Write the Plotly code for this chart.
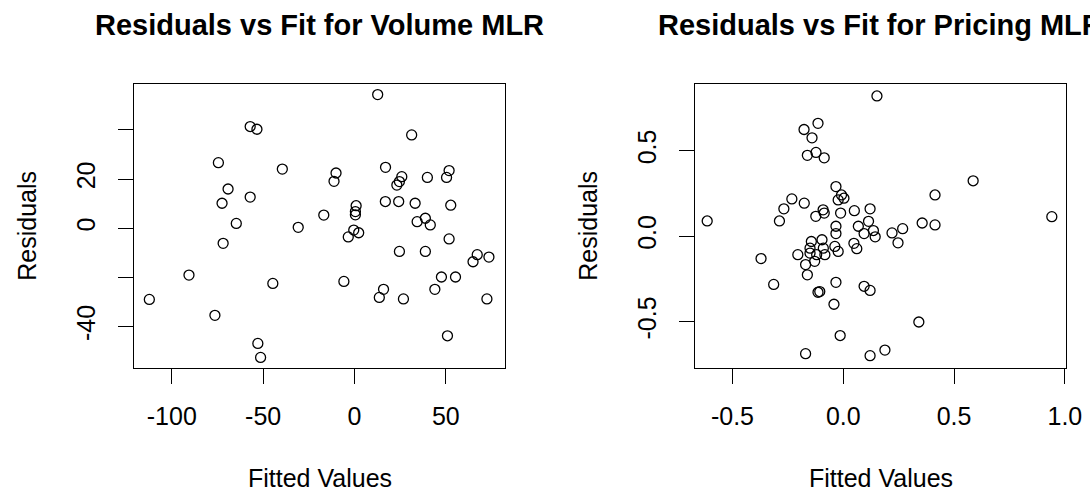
import plotly.graph_objects as go

# Volume MLR: fitted values vs residuals
vol_fitted = [-112.3, -90.6, -76.4, -74.5, -72.5, -69.2, -71.9, -64.7, -57.1, -53.4,
              -57.1, -52.9, -51.4, -44.7, -39.5, -30.8, -16.8, -10.1, -11.2, -5.8,
              -3.4, 0.9, 0.5, 0.5, -0.4, 2.3, 12.7, 17.0, 16.9, 24.2,
              25.9, 24.6, 23.2, 31.3, 24.6, 15.9, 13.6, 26.8, 33.2, 34.3,
              39.9, 38.8, 41.5, 38.8, 44.0, 47.6, 51.8, 50.4, 52.7, 51.8,
              55.3, 50.9, 64.9, 67.2, 73.6, 72.5]
vol_resid = [-28.9, -19.0, -35.4, 26.7, 10.2, 16.0, -6.1, 2.0, 41.4, 40.3,
             12.7, -46.8, -52.5, -22.4, 24.1, 0.4, 5.4, 22.5, 19.1, -21.6,
             -3.5, 9.2, 6.8, 5.5, -0.7, -1.8, 54.4, 24.8, 10.9, 10.9,
             21.0, 19.0, 17.6, 38.0, -9.4, -24.8, -28.1, -28.7, 10.2, 2.7,
             20.7, 4.1, 1.4, -9.4, -24.8, -19.8, 23.5, 20.7, 9.4, -4.3,
             -19.8, -43.7, -13.6, -10.7, -11.7, -28.7]

# Pricing MLR: fitted values vs residuals
price_fitted = [-0.614, -0.371, -0.314, -0.288, -0.268, -0.232, -0.177, -0.114, -0.141, -0.162,
                -0.123, -0.086, -0.176, -0.124, -0.091, -0.086, -0.033, -0.008, 0.003, -0.023,
                -0.012, 0.050, 0.121, -0.033, -0.033, 0.068, 0.114, 0.094, 0.136, 0.144,
                0.220, 0.268, 0.247, 0.356, 0.414, 0.414, 0.586, 0.941, 0.152, 0.048,
                0.061, -0.205, -0.144, -0.096, -0.150, -0.090, -0.083, -0.129, -0.170, -0.038,
                -0.023, -0.150, -0.120, -0.162, -0.033, -0.114, -0.106, -0.042, 0.094, 0.121,
                0.341, -0.014, -0.170, 0.121, 0.188]
price_resid = [0.089, -0.131, -0.282, 0.089, 0.160, 0.218, 0.624, 0.660, 0.575, 0.473,
               0.490, 0.458, 0.193, 0.116, 0.154, 0.135, 0.290, 0.241, 0.222, 0.212,
               0.135, 0.149, 0.160, 0.058, 0.015, 0.058, 0.087, 0.015, 0.033, -0.004,
               0.019, 0.044, -0.039, 0.077, 0.066, 0.241, 0.324, 0.114, 0.820, -0.042,
               -0.073, -0.108, -0.031, -0.021, -0.070, -0.070, -0.108, -0.147, -0.166, -0.060,
               -0.089, -0.099, -0.108, -0.226, -0.270, -0.328, -0.324, -0.398, -0.293, -0.317,
               -0.502, -0.581, -0.687, -0.699, -0.666]

# Tick positions and labels
vol_xticks = [-100, -50, 0, 50]
vol_xlabels = ["-100", "-50", "0", "50"]
vol_yticks = [-40, -20, 0, 20, 40]
vol_ylabels = ["-40", "", "0", "20", ""]
price_xticks = [-0.5, 0.0, 0.5, 1.0]
price_xlabels = ["-0.5", "0.0", "0.5", "1.0"]
price_yticks = [-0.5, 0.0, 0.5]
price_ylabels = ["-0.5", "0.0", "0.5"]

titles = ["Residuals vs Fit for Volume MLR", "Residuals vs Fit for Pricing MLR"]
x_title = "Fitted Values"
y_title = "Residuals"

W, H = 1090, 496
FONT = "Liberation Sans, Arial, sans-serif"

marker = dict(symbol="circle-open", size=10, color="black", line=dict(width=1.3, color="black"))

fig = go.Figure()
fig.add_trace(go.Scatter(x=vol_fitted, y=vol_resid, mode="markers", marker=marker,
                         xaxis="x", yaxis="y", hoverinfo="x+y"))
fig.add_trace(go.Scatter(x=price_fitted, y=price_resid, mode="markers", marker=marker,
                         xaxis="x2", yaxis="y2", hoverinfo="x+y"))

# plot boxes in pixels
left_box = (134, 505)
right_box = (695, 1066)
top_px, bottom_px = 84, 367.5

def fx(px):
    return px / W

def fy(py):
    return (H - py) / H

ydom = [fy(bottom_px), fy(top_px)]

common = dict(showline=True, mirror=True, linecolor="black", linewidth=1,
              ticks="outside", ticklen=15, tickwidth=1, tickcolor="black",
              showgrid=False, zeroline=False,
              tickfont=dict(family=FONT, size=25, color="black"))

fig.update_layout(
    width=W, height=H, autosize=False,
    # the right-hand title runs past the page edge; keep margins fixed so it is clipped
    margin=dict(l=0, r=0, t=0, b=0, autoexpand=False),
    paper_bgcolor="white", plot_bgcolor="white",
    showlegend=False,
    xaxis=dict(domain=[fx(left_box[0]), fx(left_box[1])], range=[-120.7, 82.4],
               tickvals=vol_xticks, ticktext=vol_xlabels, anchor="y",
               ticklabelstandoff=11, **common),
    yaxis=dict(domain=ydom, range=[-56.6, 58.7],
               tickvals=vol_yticks, ticktext=vol_ylabels, anchor="x",
               tickangle=-90, ticklabelstandoff=13, **common),
    xaxis2=dict(domain=[fx(right_box[0]), fx(right_box[1])], range=[-0.669, 1.005],
                tickvals=price_xticks, ticktext=price_xlabels, anchor="y2",
                ticklabelstandoff=11, **common),
    yaxis2=dict(domain=ydom, range=[-0.768, 0.890],
                tickvals=price_yticks, ticktext=price_ylabels, anchor="x2",
                tickangle=-90, ticklabelstandoff=13, **common),
)

annotations = []
for box, title in zip([left_box, right_box], titles):
    cx = (box[0] + box[1]) / 2
    annotations.append(dict(text="<b>" + title + "</b>", x=fx(cx), y=fy(25),
                            xref="paper", yref="paper", showarrow=False,
                            xanchor="center", yanchor="middle",
                            font=dict(family=FONT, size=29, color="black")))
    annotations.append(dict(text=x_title, x=fx(cx), y=fy(478),
                            xref="paper", yref="paper", showarrow=False,
                            xanchor="center", yanchor="middle",
                            font=dict(family=FONT, size=25, color="black")))
    annotations.append(dict(text=y_title, x=fx(box[0] - 107), y=fy((top_px + bottom_px) / 2),
                            xref="paper", yref="paper", showarrow=False, textangle=-90,
                            xanchor="center", yanchor="middle",
                            font=dict(family=FONT, size=25, color="black")))
fig.update_layout(annotations=annotations)

fig.write_html("out.html")
